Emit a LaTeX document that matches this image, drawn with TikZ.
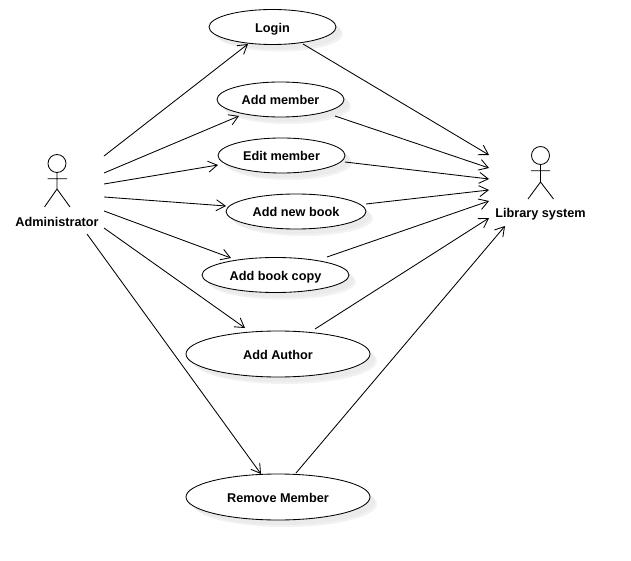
\documentclass[tikz,border=0pt]{standalone}
\usepackage{fontspec}
\setmainfont{Liberation Sans}
\usetikzlibrary{arrows.meta,shapes.geometric}
\tikzset{
  usecase/.style={ellipse,draw=black,line width=0.85pt,fill=white,inner sep=0pt},
  shade1/.style={ellipse,fill=black!8,draw=none,inner sep=0pt},
  shade2/.style={ellipse,fill=black!5,draw=none,inner sep=0pt},
  conn/.style={line width=0.85pt,-{Straight Barb[length=9pt,width=11pt,line width=0.85pt]}},
  actorline/.style={line width=0.85pt},
  boldlabel/.style={inner sep=0pt,anchor=base,font=\fontsize{12.7}{14}\selectfont\bfseries},
  head/.style={circle,draw=black,line width=0.85pt,inner sep=0pt,minimum size=18pt}
}
\newcommand{\ucase}[6]{%
  \node[shade2,minimum width=#4pt,minimum height=#5pt] at (#2+7,#3+7) {};
  \node[shade1,minimum width=#4pt,minimum height=#5pt] at (#2+5,#3+5) {};
  \node[usecase,minimum width=#4pt,minimum height=#5pt] (#1) at (#2,#3) {};
  \node[boldlabel] (#1text) at (#2,#3+5.3) {#6};
}
\begin{document}
\begin{tikzpicture}[x=1pt,y=-1pt]
\useasboundingbox (0,0) rectangle (631,561);
\ucase{login}{272.5}{27}{127}{35}{Login}
\ucase{addmember}{280.5}{99.5}{127}{35}{Add member}
\ucase{editmember}{281.5}{155.5}{127}{35}{Edit member}
\ucase{newbook}{296}{211.5}{140}{35}{Add new book}
\ucase{bookcopy}{275.5}{275}{147}{35}{Add book copy}
\ucase{author}{278}{354}{184}{46}{Add Author}
\ucase{remove}{278}{497}{184}{46}{Remove Member}

% Administrator actor
\node[head] (ahead) at (57,163.5) {};
\coordinate (ahip) at (57,189);
\coordinate (aarml) at (47.5,178.7);
\coordinate (aarmr) at (67,178.7);
\coordinate (alegl) at (44.5,207);
\coordinate (alegr) at (70,207);
\draw[actorline] (ahead.south) -- (ahip) (aarml) -- (aarmr) (alegl) -- (ahip) -- (alegr);
\node[boldlabel] (admin) at (57,226) {Administrator};

% Library system actor
\node[head] (lhead) at (540.5,155.5) {};
\coordinate (lhip) at (540.5,182);
\coordinate (larml) at (531,170.7);
\coordinate (larmr) at (550,170.7);
\coordinate (llegl) at (528,199);
\coordinate (llegr) at (553.5,199);
\draw[actorline] (lhead.south) -- (lhip) (larml) -- (larmr) (llegl) -- (lhip) -- (llegr);
\node[boldlabel] (library) at (540.5,217.3) {Library system};

% free ends near Administrator
\coordinate (a1) at (104,156);
\coordinate (a2) at (104,173);
\coordinate (a3) at (104,184);
\coordinate (a4) at (104,197);
\coordinate (a5) at (104,211);
\coordinate (a6) at (104,228);
\coordinate (a7) at (87,234);
% free ends near Library system
\coordinate (l1) at (489,155);
\coordinate (l2) at (489,168);
\coordinate (l3) at (489,179);
\coordinate (l4) at (489,190);
\coordinate (l5) at (489,201);
\coordinate (l6) at (489,218);
\coordinate (l7) at (505,226);

\draw[conn] (a1) -- ([shift={(-24.5,17)}]login.center);
\draw[conn] (a2) -- ([shift={(-41.5,16.5)}]addmember.center);
\draw[conn] (a3) -- ([shift={(-63.5,9.5)}]editmember.center);
\draw[conn] (a4) -- ([shift={(-70,-5.5)}]newbook.center);
\draw[conn] (a5) -- ([shift={(-44.5,-17)}]bookcopy.center);
\draw[conn] (a6) -- ([shift={(-33,-26)}]author.center);
\draw[conn] (a7) -- ([shift={(-17,-23)}]remove.center);

\draw[conn] ([shift={(30.5,17)}]login.center) -- (l1);
\draw[conn] ([shift={(54.5,16.5)}]addmember.center) -- (l2);
\draw[conn] ([shift={(63.5,6.5)}]editmember.center) -- (l3);
\draw[conn] ([shift={(70,-7.5)}]newbook.center) -- (l4);
\draw[conn] ([shift={(51.5,-18)}]bookcopy.center) -- (l5);
\draw[conn] ([shift={(37,-25)}]author.center) -- (l6);
\draw[conn] ([shift={(18,-24)}]remove.center) -- (l7);
\end{tikzpicture}
\end{document}
